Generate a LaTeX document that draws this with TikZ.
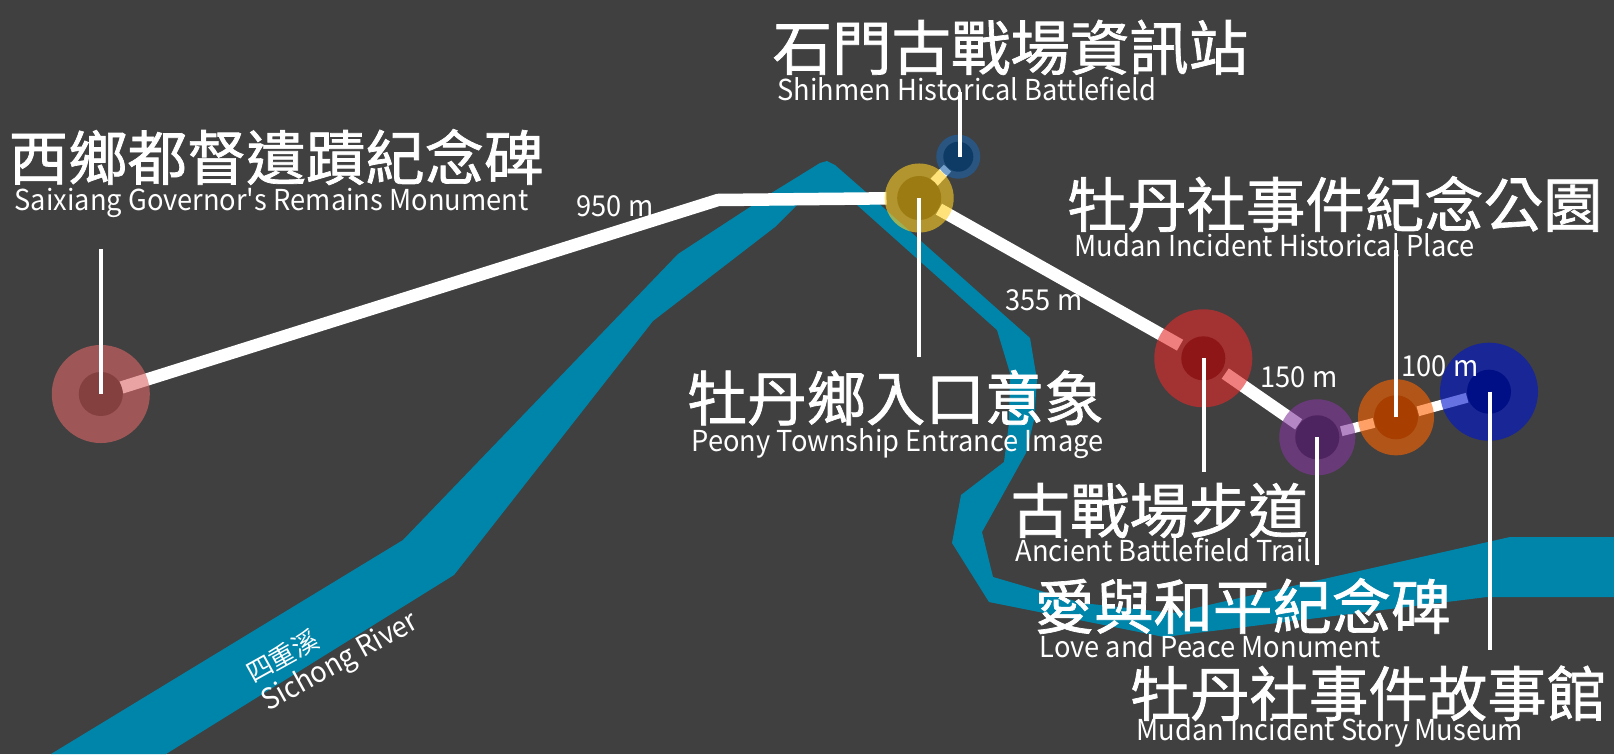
\documentclass[tikz,border=0pt]{standalone}
\usepackage{fontspec}
\setmainfont{Noto Sans CJK TC}
\newfontfamily\headfont[FakeBold=1.2]{Noto Sans CJK TC}
\newfontfamily\latinfont[FakeStretch=0.945]{Noto Sans CJK TC}
\usetikzlibrary{backgrounds}

\definecolor{bgcol}{HTML}{404040}
\definecolor{rivercol}{HTML}{0085AA}

\tikzset{
	halo/.style={circle, inner sep=0pt, opacity=0.6},
	dot/.style={circle, inner sep=0pt},
	walk/.style={white, line width=0.125cm},
	tick/.style={white, line width=0.04cm},
	title/.style={white, inner sep=0pt, anchor=base west, font=\headfont\fontsize{16.9}{20}\selectfont},
	sub/.style={white, inner sep=0pt, anchor=base west, font=\latinfont\fontsize{8.2}{10}\selectfont}
}

\begin{document}
\begin{tikzpicture}[x=0.01cm, y=-0.01cm]
			\useasboundingbox (0,0) rectangle (1614,754);
			
			% Stations: halo first, dot on top
			\foreach \x/\y/\r/\d/\col/\dotcol [count=\n from 1] in {
				100.8/394/0.98/0.44/DD6666/843F3F,
				919.2/198/0.69/0.44/FFCF22/9C7B12,
				958.3/156.7/0.44/0.3/1B63AB/0E3B66,
				1203.3/358.3/0.98/0.44/E52929/8E1616,
				1317.3/437.3/0.76/0.44/83369D/4D2360,
				1396/417.3/0.76/0.44/FF6300/A83F00,
				1489/391.7/0.98/0.44/0015CF/000F85} {
				\definecolor{halocol}{HTML}{\col}
				\definecolor{dotcol}{HTML}{\dotcol}
				\node[halo, fill=halocol, minimum size=\r cm] (h\n) at (\x,\y) {};
				\node[dot, fill=dotcol, minimum size=\d cm] (v\n) at (\x,\y) {};
			}
			
			% Free ends of the ticks
			\coordinate (bend) at (718,200);
			\coordinate (e1) at (101.3,249);
			\coordinate (e2) at (918.7,357);
			\coordinate (e3) at (960.3,92);
			\coordinate (e4) at (1203.7,472);
			\coordinate (e5) at (1317.3,565);
			\coordinate (e6) at (1396,250);
			\coordinate (e7) at (1489.7,650);
			
			\begin{scope}[on background layer]
				\fill[bgcol] (0,0) rectangle (1614,754);
				
				% River
				\fill[rivercol] (51,754) -- (403,540) -- (678,254) -- (773,192) -- (820,163) -- (827,161) -- (835,165) -- (867,193) -- (1030,338)
				-- (1037,380) -- (1034,420) -- (1026,453) -- (982,532) -- (993,577) -- (1082,603) -- (1173,613) -- (1510,537) -- (1614,537)
				-- (1614,597) -- (1487,597) -- (1164,637) -- (989,602) -- (952,543) -- (961,495) -- (1004,462) -- (1009,423) -- (1010,373) -- (997,330)
				-- (857,205) -- (827,198) -- (797,205) -- (775,227) -- (653,321) -- (454,575) -- (166,754) -- cycle;
				
				% Walks between stations
				\draw[walk, shorten >=0.1cm, shorten <=-0.01cm] (v1) -- (bend) -- (v2);
				\draw[walk, line width=0.1cm, shorten <=-0.02cm] (v2) -- (v3);
				\draw[walk, shorten >=0.04cm] (v2) -- (v4);
				\draw[walk, shorten <=0.04cm] (v4) -- (v5);
				\draw[walk, line width=0.1cm, shorten <=0.02cm] (v5) -- (v6);
				\draw[walk, line width=0.1cm] (v6) -- (v7);
			\end{scope}
			
			% Ticks from the stations to the labels
			\foreach \i in {1,...,7} {
				\draw[tick] (v\i.center -| e\i) -- (e\i);
			}
			
			% Labels
			\foreach \x/\y/\txt [count=\n from 1] in {
				8/180/西鄉都督遺蹟紀念碑,
				772/70/石門古戰場資訊站,
				1067/227/牡丹社事件紀念公園,
				687/420.5/牡丹鄉入口意象,
				1010/533/古戰場步道,
				1034/629/愛與和平紀念碑,
				1130/716/牡丹社事件故事館} {
				\node[title] (t\n) at (\x,\y) {\txt};
			}
			\foreach \x/\y/\txt [count=\n from 1] in {
				14/210/Saixiang Governor\textquotesingle s Remains Monument,
				777/100/Shihmen Historical Battlefield,
				1074/256/Mudan Incident Historical Place,
				691/451.5/Peony Township Entrance Image,
				1015/561/Ancient Battlefield Trail,
				1039/657/Love and Peace Monument,
				1136/740.7/Mudan Incident Story Museum} {
				\node[sub] (s\n) at (\x,\y) {\txt};
			}
			\foreach \x/\y/\txt [count=\n from 1] in {
				576/216.5/950 m,
				1005/310/355 m,
				1260/387/150 m,
				1401/376.5/100 m} {
				\node[sub] (d\n) at (\x,\y) {\txt};
			}
			
			% River name
			\node[sub, rotate=29, font=\fontsize{7.4}{9}\selectfont] (r1) at (252.5,684) {四重溪};
			\node[sub, rotate=29] (r2) at (268,712) {Sichong River};
		\end{tikzpicture}
\end{document}
